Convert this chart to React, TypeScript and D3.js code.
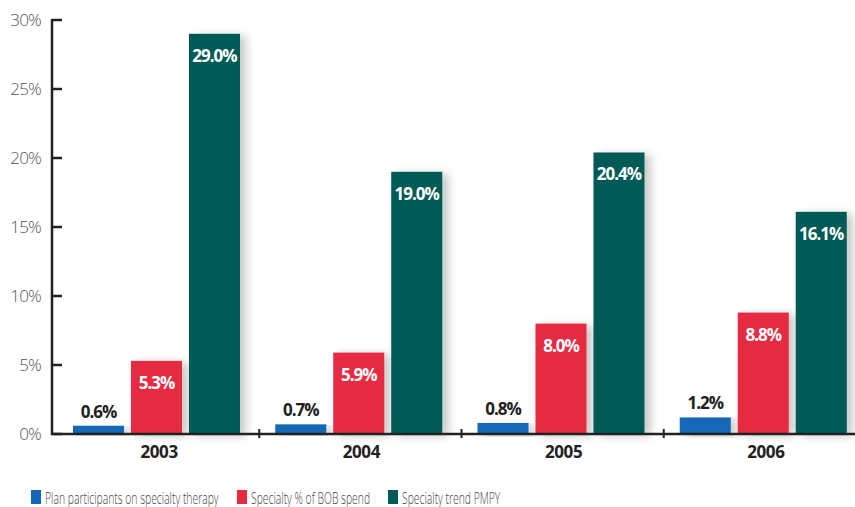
import React from "react";
import * as d3 from "d3";

const years = ["2003", "2004", "2005", "2006"];
const seriesNames = [
  "Plan participants on specialty therapy",
  "Specialty % of BOB spend",
  "Specialty trend PMPY",
];
const participants = [0.6, 0.7, 0.8, 1.2];
const bobSpend = [5.3, 5.9, 8.0, 8.8];
const trendPmpy = [29.0, 19.0, 20.4, 16.1];
const yTicks = [0, 5, 10, 15, 20, 25, 30];
const colors = ["#1268b6", "#e52a42", "#005a55"];

const W = 855;
const H = 507;

export default function App() {
  const values = [participants, bobSpend, trendPmpy];
  const y = d3.scaleLinear().domain([0, 30]).range([434, 20]);
  const x = d3.scaleBand<string>().domain(years).range([55, 864]).padding(0);
  const xs = d3
    .scaleBand<number>()
    .domain([0, 1, 2])
    .range([18, 185])
    .paddingInner(0.12)
    .paddingOuter(0);
  const font = "'Open Sans', 'DejaVu Sans', sans-serif";
  const labelFont = "'Open Sans', sans-serif";

  const legendX = [31, 237, 388];

  return (
    <svg
      width={W}
      height={H}
      style={{ position: "absolute", left: 0, top: 0, background: "#fff" }}
    >
      <defs>
        <filter id="sh" x="-50%" y="-10%" width="200%" height="130%">
          <feGaussianBlur in="SourceAlpha" stdDeviation="5" />
          <feOffset dx="6" dy="2" result="b" />
          <feComponentTransfer>
            <feFuncA type="linear" slope="0.22" />
          </feComponentTransfer>
          <feMerge>
            <feMergeNode />
            <feMergeNode in="SourceGraphic" />
          </feMerge>
        </filter>
      </defs>

      {/* bars */}
      {years.map((yr, i) => (
        <g key={yr} transform={`translate(${x(yr)},0)`}>
          {values.map((arr, s) => {
            const v = arr[i];
            const bx = xs(s)!;
            const bw = xs.bandwidth();
            const top = y(v);
            return (
              <g key={s}>
                <rect
                  x={bx}
                  y={top}
                  width={bw}
                  height={y(0) - top}
                  fill={colors[s]}
                  filter="url(#sh)"
                />
                <text
                  x={bx + bw / 2}
                  y={s === 0 ? top - 8 : top + 28}
                  textAnchor="middle"
                  fontFamily={labelFont}
                  fontWeight={700}
                  fontSize={17}
                  letterSpacing={-1}
                  fill={s === 0 ? "#222" : "#fff"}
                >
                  {v.toFixed(1)}%
                </text>
              </g>
            );
          })}
          <text
            x={x.bandwidth() / 2 + 3}
            y={458}
            textAnchor="middle"
            fontFamily={labelFont}
            fontWeight={700}
            fontSize={17}
            letterSpacing={-0.4}
            fill="#222"
          >
            {yr}
          </text>
        </g>
      ))}

      {/* y axis */}
      <line x1={52} x2={52} y1={y(30) - 1} y2={y(0) + 1} stroke="#222" strokeWidth={2.5} />
      {yTicks.map((t) => (
        <g key={t}>
          <line x1={52} x2={62} y1={y(t)} y2={y(t)} stroke="#222" strokeWidth={2.5} />
          <text
            x={41}
            y={y(t) + 6}
            textAnchor="end"
            fontFamily={font}
            fontWeight={300}
            fontSize={17}
            letterSpacing={-0.8}
            fill="#555"
          >
            {t}%
          </text>
        </g>
      ))}

      {/* x axis */}
      <line x1={51} x2={855} y1={y(0)} y2={y(0)} stroke="#222" strokeWidth={2.5} />
      {years.slice(1).map((yr) => (
        <line
          key={yr}
          x1={x(yr)! + 2}
          x2={x(yr)! + 2}
          y1={y(0) - 5}
          y2={y(0) + 4}
          stroke="#222"
          strokeWidth={2}
        />
      ))}

      {/* legend */}
      {seriesNames.map((n, s) => (
        <g key={n} transform={`translate(${legendX[s]},490)`}>
          <rect x={0} y={0} width={10} height={14} fill={colors[s]} />
          <g transform="translate(14,13.5) scale(0.61,1)">
            <text
              x={0}
              y={0}
              fontFamily={font}
              fontWeight={300}
              fontSize={17}
              fill="#444"
            >
              {n}
            </text>
          </g>
        </g>
      ))}
    </svg>
  );
}
